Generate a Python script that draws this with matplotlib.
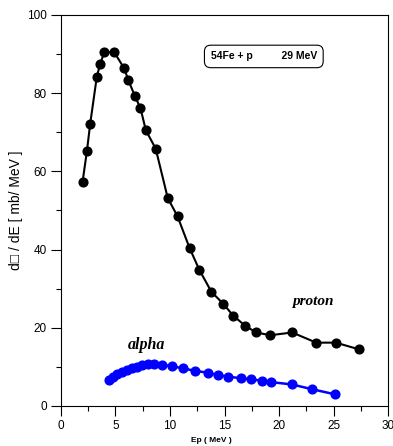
"""Proton and alpha emission spectra for 54Fe + p at 29 MeV."""

import matplotlib

matplotlib.use("Agg")
import matplotlib.pyplot as plt
from matplotlib.ticker import MultipleLocator


PROTON_E = [2.0, 2.4, 2.7, 3.3, 3.6, 4.0, 4.9, 5.8, 6.2, 6.8, 7.3, 7.8, 8.7,
            9.8, 10.7, 11.8, 12.7, 13.8, 14.9, 15.8, 16.9, 17.9, 19.2, 21.2,
            23.4, 25.2, 27.3]
PROTON_XS = [57.3, 65.2, 72.2, 84.1, 87.4, 90.5, 90.5, 86.4, 83.3, 79.2, 76.2,
             70.5, 65.8, 53.2, 48.5, 40.4, 34.8, 29.2, 26.1, 23.1, 20.5, 18.8,
             18.1, 18.8, 16.2, 16.2, 14.5]

ALPHA_E = [4.4, 4.8, 5.2, 5.65, 6.1, 6.5, 6.95, 7.4, 7.95, 8.55, 9.3, 10.2,
           11.2, 12.3, 13.5, 14.4, 15.35, 16.5, 17.4, 18.4, 19.3, 21.2, 23.0,
           25.1]
ALPHA_XS = [6.6, 7.5, 8.1, 8.6, 9.2, 9.6, 10.1, 10.5, 10.7, 10.7, 10.5, 10.2,
            9.6, 9.0, 8.5, 7.9, 7.5, 7.1, 6.8, 6.5, 6.1, 5.5, 4.3, 3.0]

REACTION = "54Fe + p"
BEAM = "29 MeV"


def main() -> int:
    plt.rcParams["font.family"] = ["Liberation Sans", "DejaVu Sans"]

    fig = plt.figure(figsize=(3.93, 4.46), dpi=100)
    ax = fig.add_axes([0.1545, 0.0897, 0.8335, 0.8767])

    ax.plot(PROTON_E, PROTON_XS, color="black", lw=1.5, marker="o", ms=6.3)
    ax.plot(ALPHA_E, ALPHA_XS, color="#0000ff", lw=1.8, marker="o", ms=6.3)

    ax.set_xlim(0, 30)
    ax.set_ylim(0, 100)
    ax.xaxis.set_major_locator(MultipleLocator(5))
    ax.xaxis.set_minor_locator(MultipleLocator(2.5))
    ax.yaxis.set_major_locator(MultipleLocator(20))
    ax.yaxis.set_minor_locator(MultipleLocator(10))
    ax.tick_params(which="major", direction="out", length=7, width=0.8,
                   labelsize=8.5, pad=3)
    ax.tick_params(which="minor", direction="out", length=3.5, width=0.8)
    for spine in ax.spines.values():
        spine.set_linewidth(0.8)

    ax.set_ylabel("d\u25a1 / dE [ mb/ MeV ]", fontsize=10, labelpad=3)
    fig.text(211 / 393, 1 - 441 / 446, "Ep ( MeV )", fontsize=6,
             fontweight="bold", ha="center", va="center")

    serif = ["Liberation Serif", "DejaVu Serif"]
    ax.text(7.9, 15.6, "alpha", family=serif, style="italic",
            fontweight="bold", fontsize=11.5, ha="center", va="center")
    ax.text(23.1, 26.6, "proton", family=serif, style="italic",
            fontweight="bold", fontsize=11, ha="center", va="center")

    ax.text(18.6, 89.4, f"{REACTION}          {BEAM}", fontsize=7.5,
            fontweight="bold", ha="center", va="center",
            bbox=dict(boxstyle="round,pad=0.6", fc="white", ec="black",
                      lw=0.8))

    fig.savefig("out.png", dpi=100)
    plt.close(fig)
    return 0


if __name__ == "__main__":
    raise SystemExit(main())
